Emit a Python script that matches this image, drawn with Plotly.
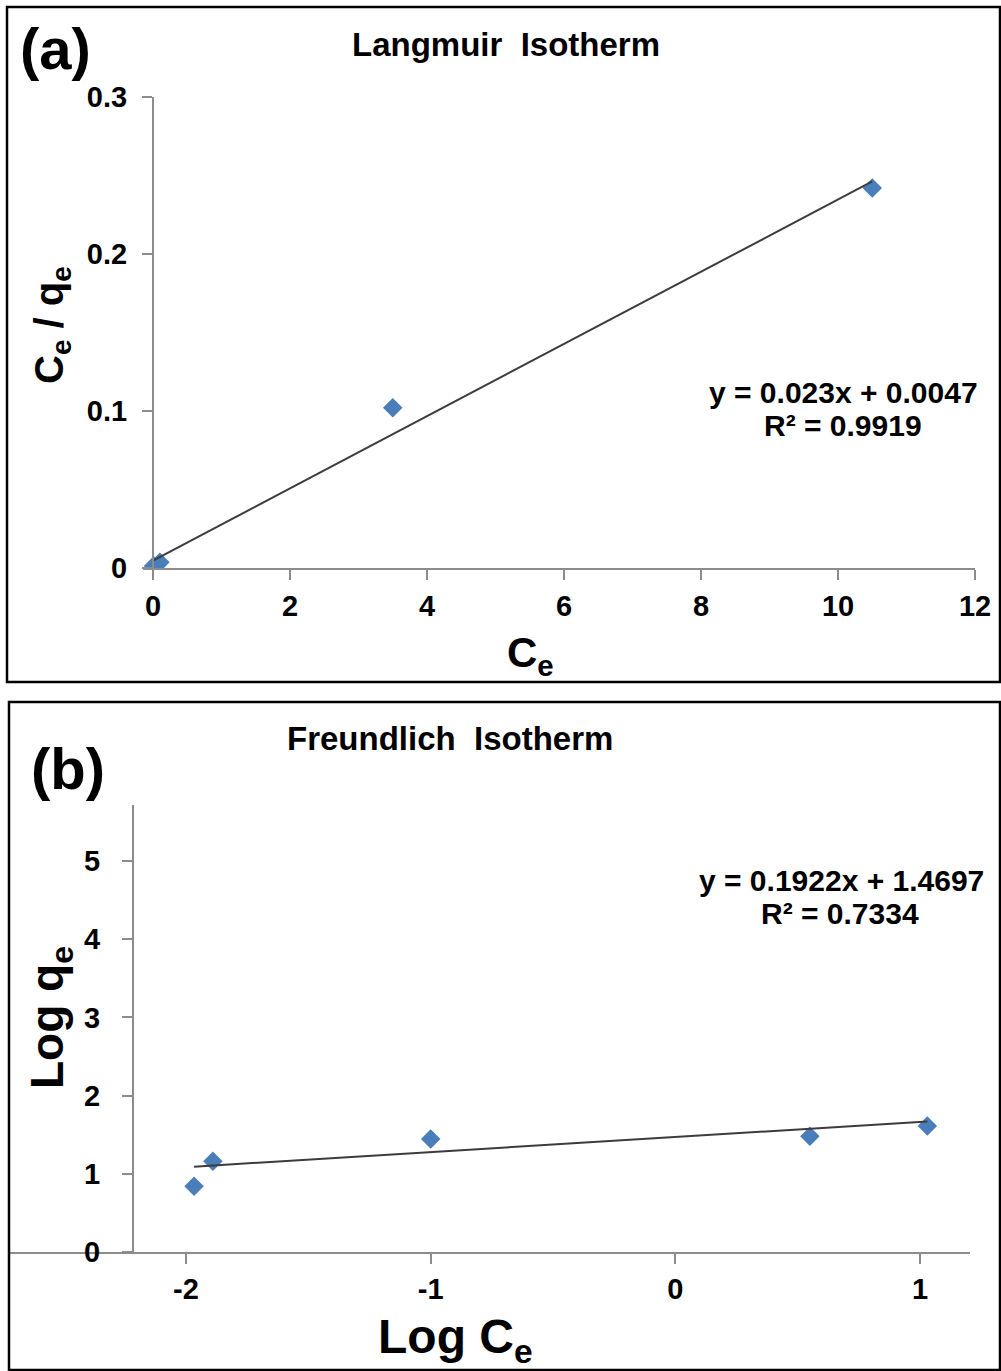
import plotly.graph_objects as go

W, H = 1001, 1371

# ---- data ----
ce = [0.011, 0.013, 0.1, 3.5, 10.5]
ce_over_qe = [0.0015, 0.0009, 0.0036, 0.102, 0.242]
lang_slope, lang_intercept, lang_r2 = 0.023, 0.0047, 0.9919

log_ce = [-1.967, -1.89, -1.0, 0.55, 1.03]
log_qe = [0.84, 1.16, 1.445, 1.48, 1.61]
freu_slope, freu_intercept, freu_r2 = 0.1922, 1.4697, 0.7334

lang_xticks = [0, 2, 4, 6, 8, 10, 12]
lang_yticks = [0, 0.1, 0.2, 0.3]
lang_yticktext = ["0", "0.1", "0.2", "0.3"]
freu_xticks = [-2, -1, 0, 1]
freu_xticktext = ["-2", "-1", "0", "1"]
freu_yticks = [0, 1, 2, 3, 4, 5]


def px(x):
    return x / W


def py(y):
    return 1 - y / H


FONT = "Liberation Sans, Arial, sans-serif"
AXC = "#8c8c8c"
MARK = "#4a7ebb"
LINEC = "#3c3c3c"

fig = go.Figure()

# Panel (a) Langmuir
fig.add_trace(go.Scatter(x=ce, y=ce_over_qe, mode="markers",
                         marker=dict(symbol="diamond", size=15, color=MARK),
                         xaxis="x", yaxis="y", showlegend=False))
lx = [0, max(ce)]
fig.add_trace(go.Scatter(x=lx, y=[lang_slope * v + lang_intercept for v in lx], mode="lines",
                         line=dict(color=LINEC, width=2), xaxis="x", yaxis="y", showlegend=False))

# Panel (b) Freundlich
fig.add_trace(go.Scatter(x=log_ce, y=log_qe, mode="markers",
                         marker=dict(symbol="diamond", size=15, color=MARK),
                         xaxis="x2", yaxis="y2", showlegend=False))
fx = [min(log_ce), max(log_ce)]
fig.add_trace(go.Scatter(x=fx, y=[freu_slope * v + freu_intercept for v in fx], mode="lines",
                         line=dict(color=LINEC, width=2), xaxis="x2", yaxis="y2", showlegend=False))

tickfont = dict(family=FONT, size=29, color="black", weight="bold")

# axis a: x pixel 143..975, 0 at 153, 12 at 975
a_x0 = 153; a_x12 = 975
a_ppu = (a_x12 - a_x0) / 12
a_left = 143
a_xmin = (a_left - a_x0) / a_ppu

b_ppu = (920 - 186) / 3
b_xmin = -2 - (186 - 10) / b_ppu
b_xmax = 1 + (970 - 920) / b_ppu
b_ytop = (1252 - 805) / 78.2

common = dict(ticks="outside", ticklen=10, tickwidth=2, tickcolor=AXC, showline=True,
              linecolor=AXC, linewidth=2, showgrid=False, zeroline=False,
              tickfont=tickfont, automargin=False)

fig.update_layout(
    template="none",
    width=W, height=H,
    margin=dict(l=0, r=0, t=0, b=0, pad=0, autoexpand=False),
    paper_bgcolor="white", plot_bgcolor="white",
    xaxis=dict(domain=[px(a_left), px(a_x12)], range=[a_xmin, 12], anchor="y",
               tickvals=lang_xticks, ticklabelstandoff=1, **common),
    yaxis=dict(domain=[py(568), py(97)], range=[0, 0.3], anchor="free", position=px(a_x0),
               tickvals=lang_yticks, ticktext=lang_yticktext, ticklabelstandoff=9, **common),
    xaxis2=dict(domain=[px(10), px(970)], range=[b_xmin, b_xmax], anchor="y2",
                tickvals=freu_xticks, ticktext=freu_xticktext, ticklabelstandoff=0, **common),
    yaxis2=dict(domain=[py(1252), py(805)], range=[0, b_ytop], anchor="free",
                position=px(133), tickvals=freu_yticks, ticklabelstandoff=16, **common),
)

# borders
fig.add_shape(type="rect", xref="paper", yref="paper", x0=px(7), x1=px(1000), y0=py(682), y1=py(7),
              line=dict(color="black", width=2.5))
fig.add_shape(type="rect", xref="paper", yref="paper", x0=px(9), x1=px(1000), y0=py(1370), y1=py(702),
              line=dict(color="black", width=2.5))


def txt(text, x, y, size, angle=0, xanchor="center"):
    fig.add_annotation(text=text, xref="paper", yref="paper", x=px(x), y=py(y), showarrow=False,
                       xanchor=xanchor, yanchor="middle", textangle=angle,
                       font=dict(family=FONT, size=size, color="black", weight="bold"))


txt("(a)", 55, 48, 58)
txt("Langmuir  Isotherm", 506, 45, 33)
txt("C<sub>e</sub> / q<sub>e</sub>", 52, 325, 40, angle=-90)
txt("C<sub>e</sub>", 530, 655, 42)
txt("y = 0.023x + 0.0047", 843, 392, 30)
txt("R² = " + f"{lang_r2:.4f}", 843, 426, 30)

txt("(b)", 68, 768, 58)
txt("Freundlich  Isotherm", 450, 738, 33)
txt("Log q<sub>e</sub>", 50, 1018, 46, angle=-90)
txt("Log C<sub>e</sub>", 455, 1340, 48)
txt("y = " + f"{freu_slope}x + {freu_intercept}", 841, 880, 30)
txt("R² = " + f"{freu_r2:.4f}", 840, 913, 30)

fig.write_html("out.html")
